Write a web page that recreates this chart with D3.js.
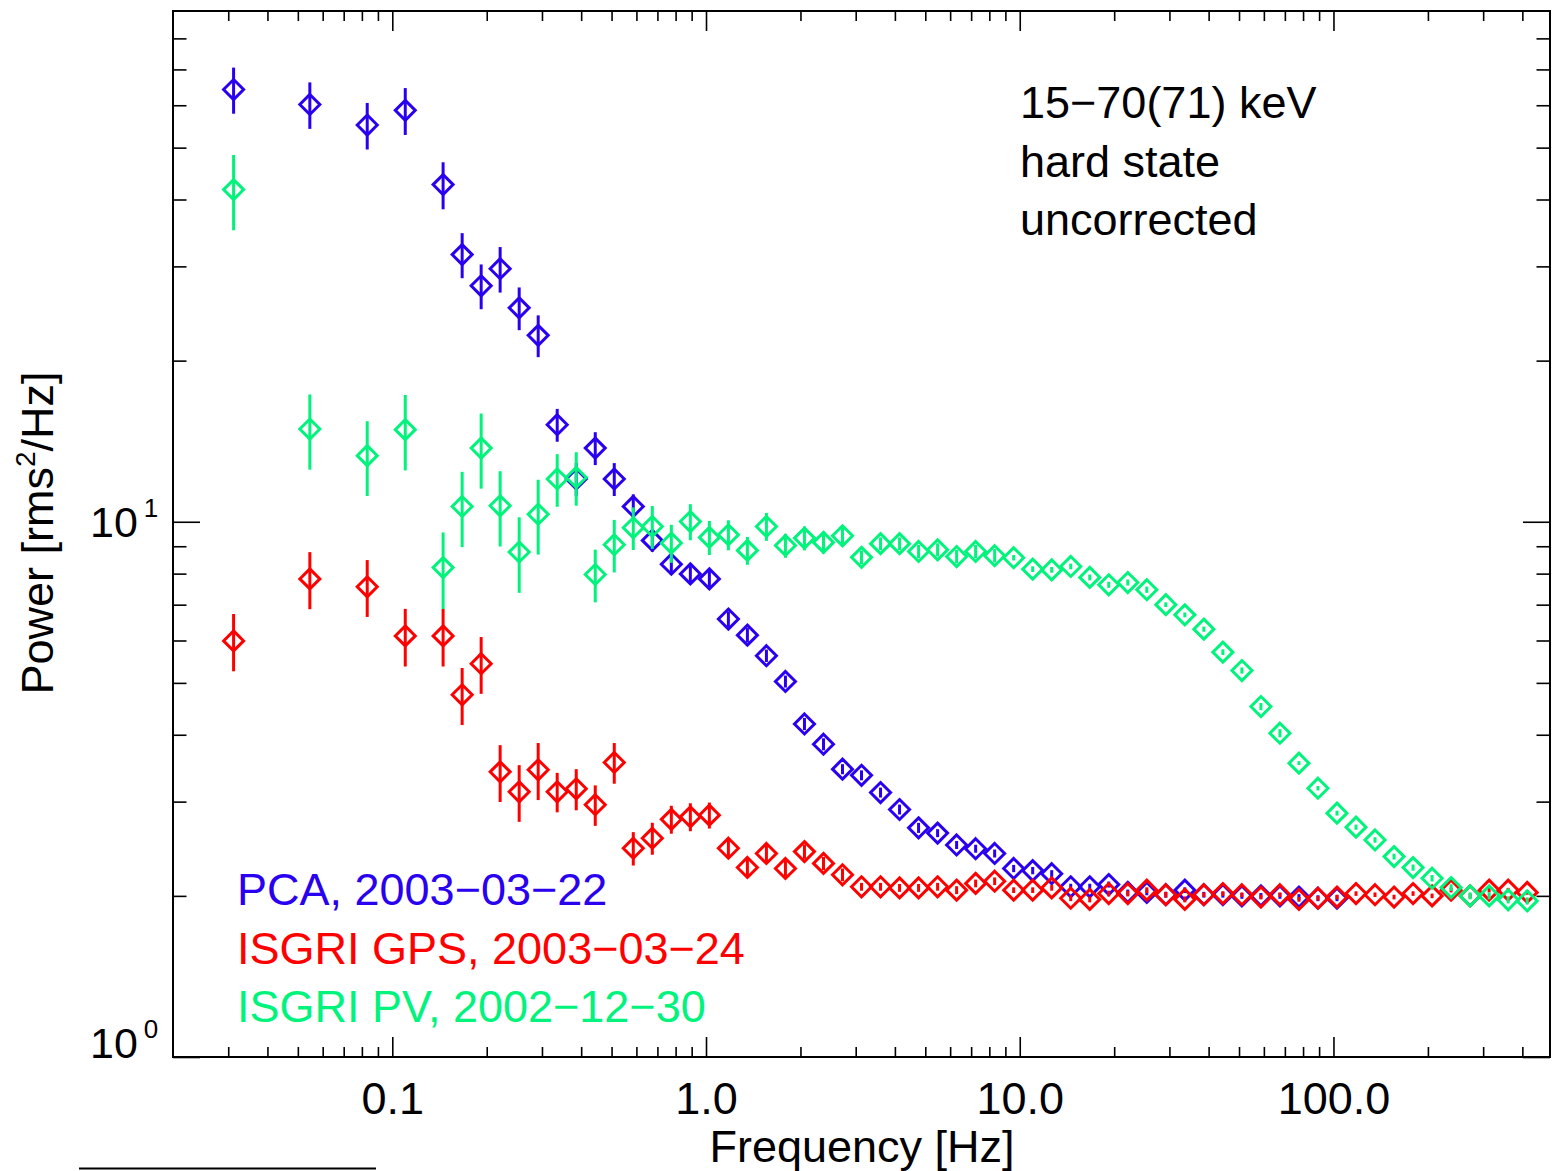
<!DOCTYPE html>
<html><head><meta charset="utf-8">
<script src="https://cdn.jsdelivr.net/npm/d3@7"></script>
<style>
body{margin:0;background:#fff}
svg{display:block}
text{font-family:"Liberation Sans",Arial,Helvetica,sans-serif}
</style>
</head><body>
<svg id="c" width="1552" height="1171"></svg>
<script>
// ---------------- data ----------------
const freq = [0.0312, 0.0546, 0.0832, 0.110,
  0.1452, 0.1670, 0.1920, 0.2207, 0.2538, 0.2918, 0.3355, 0.3858, 0.4436, 0.5100,
  0.5864, 0.6743, 0.7753, 0.8914, 1.0249, 1.1785, 1.3550, 1.5580, 1.7914, 2.0597,
  2.3682, 2.7230, 3.1309, 3.5999, 4.1392, 4.7592, 5.4721, 6.2919, 7.2344, 8.3181,
  9.5641, 10.997, 12.644, 14.538, 16.716, 19.220, 22.099, 25.410, 29.216, 33.593,
  38.625, 44.411, 51.063, 58.713, 67.508, 77.621, 89.248, 102.62, 117.99, 135.66,
  155.99, 179.35, 206.22, 237.11, 272.63, 313.47, 360.43, 414.42];

const pcaPower = [64.2, 60.2, 55.1, 58.7, 42.65, 31.56, 27.6, 29.7, 25.1, 22.3,
  15.18, 12.02, 13.73, 12.02, 10.68, 9.23, 8.33, 7.99, 7.82, 6.58,
  6.14, 5.62, 5.03, 4.19, 3.84, 3.45, 3.36, 3.12, 2.90, 2.68,
  2.62, 2.49, 2.45, 2.40, 2.25, 2.23, 2.20, 2.08, 2.08, 2.10,
  2.03, 2.03, 2.01, 2.05, 2.01, 2.01, 2.00, 2.00, 2.00, 1.99, 1.98, 1.98];
const pcaErr = [6.35, 6.0, 5.5, 5.9, 4.3, 3.05, 2.65, 2.9, 2.3, 2.0,
  1.07, 0.85, 0.97, 0.85, 0.57, 0.44, 0.36, 0.31, 0.30, 0.22,
  0.19, 0.15, 0.13, 0.11, 0.10, 0.075, 0.072, 0.067, 0.062, 0.058,
  0.045, 0.043, 0.042, 0.041, 0.035, 0.035, 0.034, 0.027, 0.027, 0.027,
  0.025, 0.025, 0.025, 0.025, 0.025, 0.025, 0.025, 0.025, 0.025, 0.025, 0.025, 0.025];

const gpsPower = [5.99, 7.82, 7.56, 6.12, 6.12, 4.75, 5.43, 3.41, 3.13, 3.44,
  3.13, 3.17, 2.96, 3.55, 2.455, 2.563, 2.78, 2.81, 2.83, 2.455,
  2.26, 2.40, 2.25, 2.42, 2.30, 2.19, 2.08, 2.08, 2.07, 2.07,
  2.08, 2.05, 2.11, 2.13, 2.05, 2.05, 2.07, 1.98, 1.97, 2.02,
  2.02, 2.05, 2.01, 1.97, 2.01, 2.02, 2.01, 1.99, 2.01, 1.97,
  1.98, 1.99, 2.02, 2.01, 1.99, 2.02, 2.00, 2.05, 2.00, 2.05, 2.05, 2.03];
const gpsErr = [0.735, 0.955, 0.92, 0.755, 0.755, 0.58, 0.66, 0.415, 0.38, 0.42,
  0.265, 0.28, 0.257, 0.31, 0.176, 0.176, 0.167, 0.169, 0.158, 0.106,
  0.088, 0.093, 0.075, 0.075, 0.065, 0.06, 0.035, 0.035, 0.035, 0.035,
  0.035, 0.035, 0.035, 0.035, 0.025, 0.025, 0.025, 0.025, 0.025, 0.025,
  0.025, 0.025, 0.025, 0.025, 0.02, 0.02, 0.02, 0.02, 0.02, 0.02,
  0.02, 0.02, 0.02, 0.02, 0.02, 0.02, 0.02, 0.02, 0.02, 0.02, 0.02, 0.02];

const pvPower = [41.74, 14.9, 13.29, 14.86, 8.21, 10.68, 13.73, 10.71, 8.78, 10.33,
  12.02, 12.10, 7.97, 9.06, 9.745, 9.80, 9.125, 10.01, 9.35, 9.455,
  8.84, 9.80, 9.03, 9.32, 9.15, 9.415, 8.58, 9.10, 9.10, 8.80,
  8.865, 8.61, 8.80, 8.64, 8.566, 8.155, 8.13, 8.25, 7.87, 7.625,
  7.70, 7.465, 7.0, 6.70, 6.30, 5.706, 5.273, 4.516, 4.027, 3.54,
  3.178, 2.855, 2.688, 2.544, 2.368, 2.259, 2.158, 2.073, 2.0, 2.0, 1.966, 1.957];
const pvErr = [6.7, 2.39, 2.12, 2.39, 1.34, 1.715, 2.2, 1.72, 1.415, 1.65,
  1.355, 1.385, 0.9, 1.02, 0.89, 0.9, 0.746, 0.776, 0.684, 0.61,
  0.53, 0.59, 0.466, 0.48, 0.433, 0.405, 0.25, 0.25, 0.25, 0.25,
  0.25, 0.25, 0.25, 0.25, 0.1, 0.1, 0.1, 0.1, 0.1, 0.1,
  0.1, 0.1, 0.07, 0.07, 0.07, 0.07, 0.07, 0.07, 0.07, 0.03,
  0.03, 0.03, 0.03, 0.03, 0.03, 0.03, 0.03, 0.03, 0.03, 0.03, 0.03, 0.03];

const xMajorTicks = [0.1, 1, 10, 100];
const xTickLabels = ["0.1", "1.0", "10.0", "100.0"];
const xMinorTicks = [0.03, 0.04, 0.05, 0.06, 0.07, 0.08, 0.09,
  0.2, 0.3, 0.4, 0.5, 0.6, 0.7, 0.8, 0.9,
  2, 3, 4, 5, 6, 7, 8, 9,
  20, 30, 40, 50, 60, 70, 80, 90,
  200, 300, 400];
const yMajorTicks = [1, 10];
const yTickExponents = ["0", "1"];
const yMinorTicks = [2, 3, 4, 5, 6, 7, 8, 9, 20, 30, 40, 50, 60, 70, 80];
const annotationLines = ["15\u221270(71) keV", "hard state", "uncorrected"];
const seriesNames = ["PCA, 2003\u221203\u221222", "ISGRI GPS, 2003\u221203\u221224", "ISGRI PV, 2002\u221212\u221230"];
const seriesColors = ["#2a00f0", "#ff0000", "#00f47c"];
const xTitle = "Frequency [Hz]";

// ---------------- layout ----------------
const L = 173, R = 1550, T = 11, B = 1057;
const svg = d3.select("#c");
const x = d3.scaleLog().domain([0.02, 490]).range([L, R]);
const y = d3.scaleLog().domain([1, 90]).range([B, T]);
const FONT = '"Liberation Sans",Arial,Helvetica,sans-serif';

// ---------------- series ----------------
const series = [
  {name: seriesNames[0], color: seriesColors[0], p: pcaPower, e: pcaErr},
  {name: seriesNames[1], color: seriesColors[1], p: gpsPower, e: gpsErr},
  {name: seriesNames[2], color: seriesColors[2], p: pvPower, e: pvErr}
];
const r = 10;
series.forEach(s => {
  const pts = s.p.map((v, i) => ({f: freq[i], v, e: s.e[i]}));
  const g = svg.append("g");
  g.selectAll("line.err").data(pts).join("line")
    .attr("x1", d => x(d.f)).attr("x2", d => x(d.f))
    .attr("y1", d => y(d.v + d.e)).attr("y2", d => y(Math.max(d.v - d.e, 1.0001)))
    .attr("stroke", s.color).attr("stroke-width", 3);
  g.selectAll("path.mk").data(pts).join("path")
    .attr("d", `M0,${-r}L${r},0L0,${r}L${-r},0Z`)
    .attr("transform", d => `translate(${x(d.f)},${y(d.v)})`)
    .attr("fill", "none").attr("stroke", s.color).attr("stroke-width", 3)
    .attr("stroke-linejoin", "miter");
});

// ---------------- axes ----------------
function styleAxis(g) {
  g.select(".domain").remove();
  g.selectAll(".tick line").attr("stroke", "#000").attr("stroke-width", 1.6);
  g.attr("font-family", FONT);
}
// bottom
svg.append("g").attr("transform", `translate(0,${B})`)
  .call(d3.axisBottom(x).tickValues(xMajorTicks).tickSize(-20).tickPadding(25)
    .tickFormat((d, i) => xTickLabels[i]))
  .call(styleAxis)
  .call(g => g.selectAll("text").attr("font-size", 45).attr("fill", "#000"));
svg.append("g").attr("transform", `translate(0,${B})`)
  .call(d3.axisBottom(x).tickValues(xMinorTicks).tickSize(-10).tickFormat(""))
  .call(styleAxis);
// top
svg.append("g").attr("transform", `translate(0,${T})`)
  .call(d3.axisTop(x).tickValues(xMajorTicks).tickSize(-20).tickFormat(""))
  .call(styleAxis);
svg.append("g").attr("transform", `translate(0,${T})`)
  .call(d3.axisTop(x).tickValues(xMinorTicks).tickSize(-10).tickFormat(""))
  .call(styleAxis);
// left
svg.append("g").attr("transform", `translate(${L},0)`)
  .call(d3.axisLeft(y).tickValues(yMajorTicks).tickSize(-27).tickFormat(""))
  .call(styleAxis);
svg.append("g").attr("transform", `translate(${L},0)`)
  .call(d3.axisLeft(y).tickValues(yMinorTicks).tickSize(-13.5).tickFormat(""))
  .call(styleAxis);
// right
svg.append("g").attr("transform", `translate(${R},0)`)
  .call(d3.axisRight(y).tickValues(yMajorTicks).tickSize(-27).tickFormat(""))
  .call(styleAxis);
svg.append("g").attr("transform", `translate(${R},0)`)
  .call(d3.axisRight(y).tickValues(yMinorTicks).tickSize(-13.5).tickFormat(""))
  .call(styleAxis);

// y tick labels 10^n
yMajorTicks.forEach((v, i) => {
  const base = v === 1 ? y(v) + 1 : y(v) + 15;
  const t = svg.append("text").attr("x", 90).attr("y", base).attr("fill", "#000");
  t.append("tspan").attr("font-size", 43).text("10");
  t.append("tspan").attr("font-size", 26).attr("dx", 6).attr("dy", -20).text(yTickExponents[i]);
});

// frame
svg.append("rect").attr("x", L).attr("y", T).attr("width", R - L).attr("height", B - T)
  .attr("fill", "none").attr("stroke", "#000").attr("stroke-width", 2);

// axis titles
svg.append("text").attr("x", 862).attr("y", 1162).attr("text-anchor", "middle")
  .attr("font-size", 45).attr("fill", "#000").text(xTitle);
const yt = svg.append("text").attr("transform", "translate(53,533) rotate(-90)")
  .attr("text-anchor", "middle").attr("font-size", 45).attr("fill", "#000");
yt.append("tspan").text("Power [rms");
yt.append("tspan").attr("font-size", 28).attr("dy", -18).text("2");
yt.append("tspan").attr("dy", 18).text("/Hz]");

// annotation
annotationLines.forEach((s, i) => {
  svg.append("text").attr("x", 1020).attr("y", 118 + i * 58.5)
    .attr("font-size", 45).attr("fill", "#000").text(s);
});

// legend
series.forEach((s, i) => {
  svg.append("text").attr("x", 237).attr("y", 905 + i * 58.5)
    .attr("font-size", 45).attr("fill", s.color).text(s.name);
});

// stray rule bottom-left
svg.append("line").attr("x1", 79).attr("x2", 376).attr("y1", 1168.5).attr("y2", 1168.5)
  .attr("stroke", "#000").attr("stroke-width", 2);
</script>
</body></html>
